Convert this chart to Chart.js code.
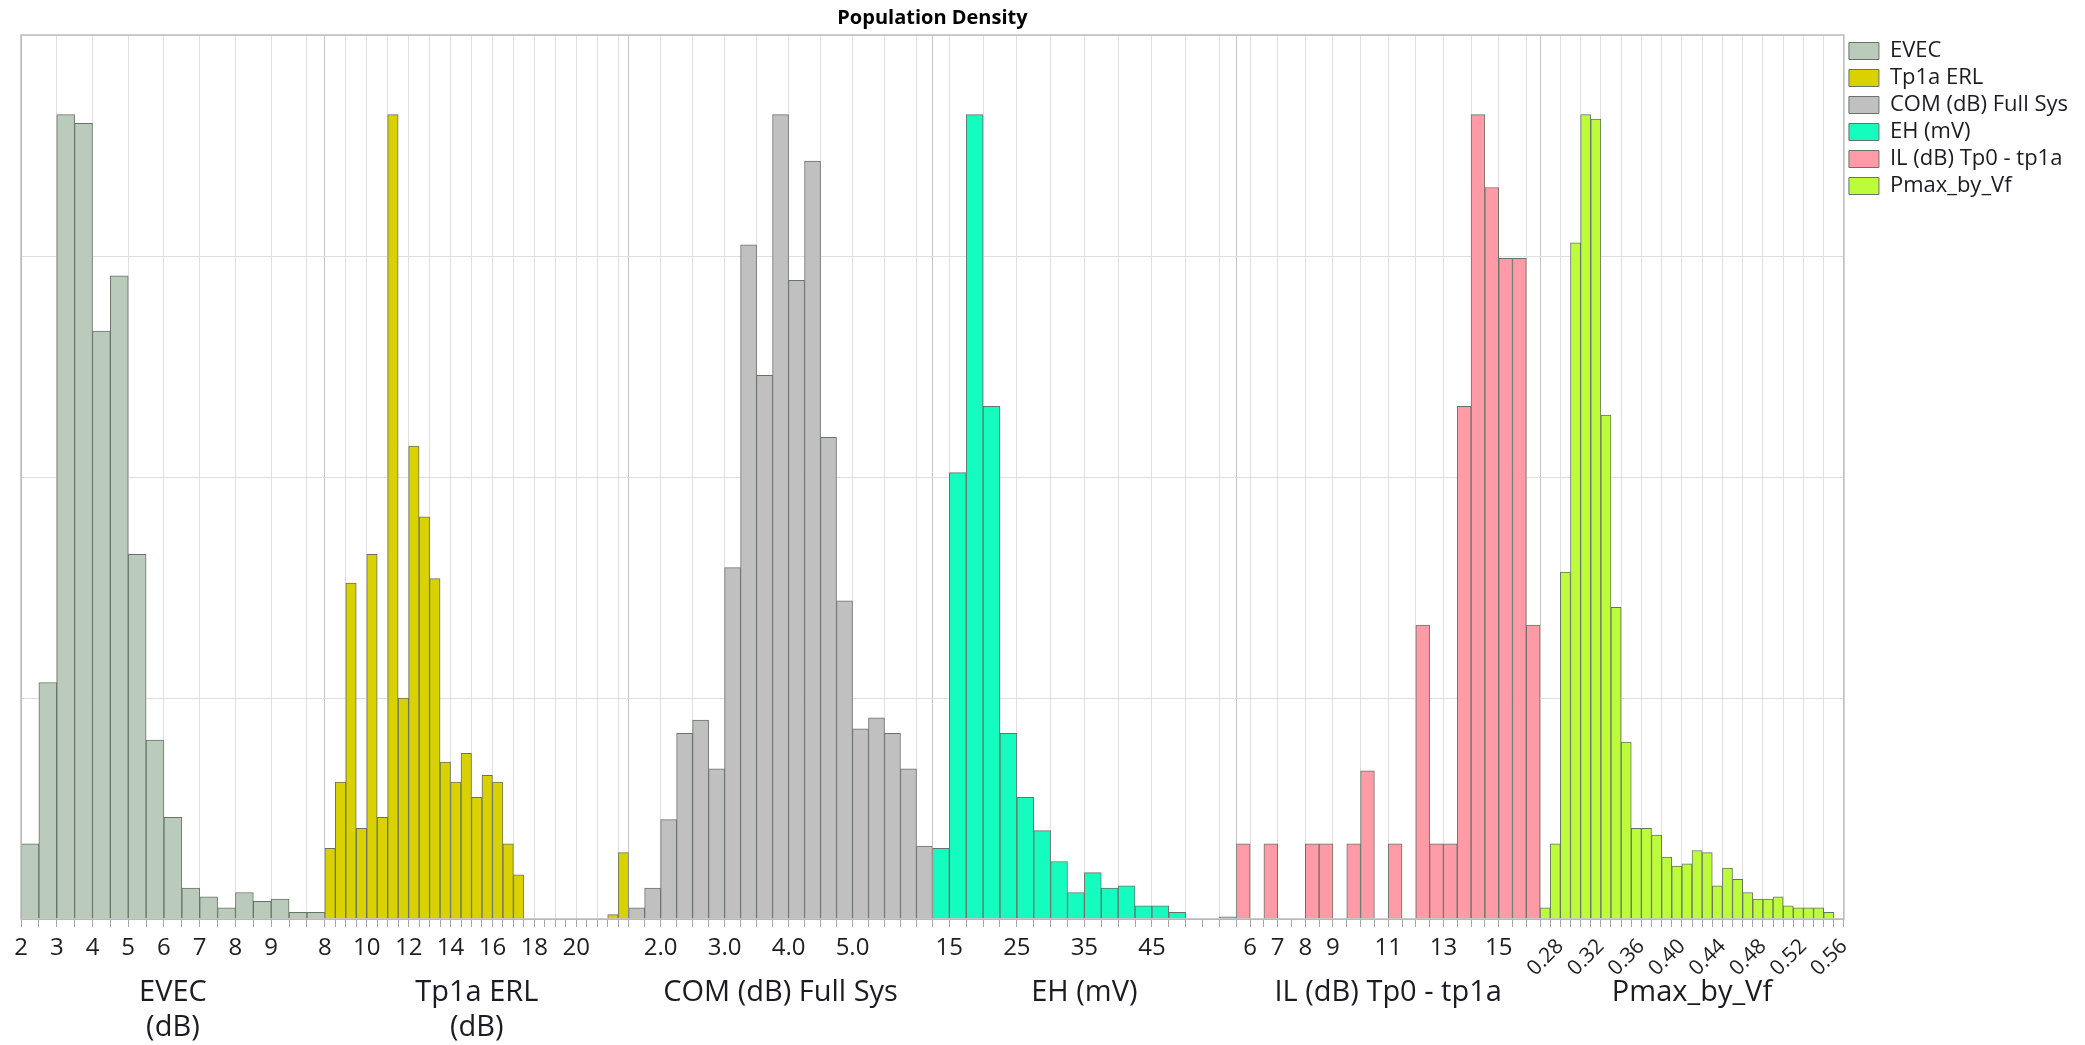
<!DOCTYPE html>
<html>
<head>
<meta charset="utf-8">
<title>Population Density</title>
<script src="https://cdn.jsdelivr.net/npm/chart.js@4.4.1/dist/chart.umd.min.js"></script>
<style>
  html, body { margin: 0; padding: 0; background: #fff; }
</style>
</head>
<body>
<canvas id="popDensity" width="2085" height="1045"></canvas>
<script>
// six histograms drawn side by side, one x axis each
var names = ['EVEC', 'Tp1a ERL', 'COM (dB) Full Sys', 'EH (mV)', 'IL (dB) Tp0 - tp1a', 'Pmax_by_Vf'];
var axisTitles = [['EVEC', '(dB)'], ['Tp1a ERL', '(dB)'], ['COM (dB) Full Sys', ''],
                  ['EH (mV)', ''], ['IL (dB) Tp0 - tp1a', ''], ['Pmax_by_Vf', '']];

// first bin edge and bin width of every panel
var binStart = [2, 8, 1.5, 12.5, 5.5, 0.26];
var binWidth = [0.5, 0.5, 0.25, 2.5, 0.5, 0.01];
var gridStep = [1, 1, 0.5, 5, 1, 0.02];

// bar heights (relative density, one grid line = 1)
var evecDensity = [0.34, 1.07, 3.64, 3.60, 2.66, 2.91, 1.65, 0.81, 0.46, 0.14, 0.10, 0.05, 0.12, 0.08, 0.09, 0.03, 0.03];
var erlDensity = [0.32, 0.62, 1.52, 0.41, 1.65, 0.46, 3.64, 1.00, 2.14, 1.82, 1.54, 0.71, 0.62, 0.75, 0.55,
                  0.65, 0.62, 0.34, 0.20, 0, 0, 0, 0, 0, 0, 0, 0, 0.02, 0.30];
var comDensity = [0.05, 0.14, 0.45, 0.84, 0.90, 0.68, 1.59, 3.05, 2.46, 3.64, 2.89, 3.43, 2.18, 1.44, 0.86,
                  0.91, 0.84, 0.68, 0.33];
var ehDensity = [0.32, 2.02, 3.64, 2.32, 0.84, 0.55, 0.40, 0.26, 0.12, 0.21, 0.14, 0.15, 0.06, 0.06, 0.03, 0, 0, 0.01];
var ilDensity = [0.34, 0, 0.34, 0, 0, 0.34, 0.34, 0, 0.34, 0.67, 0, 0.34, 0, 1.33, 0.34, 0.34, 2.32, 3.64,
                 3.31, 2.99, 2.99, 1.33];
var pmaxDensity = [0.05, 0.34, 1.57, 3.06, 3.64, 3.62, 2.28, 1.41, 0.80, 0.41, 0.41, 0.38, 0.28, 0.24, 0.25,
                   0.31, 0.30, 0.15, 0.23, 0.18, 0.12, 0.09, 0.09, 0.10, 0.06, 0.05, 0.05, 0.05, 0.03, 0];
var densities = [evecDensity, erlDensity, comDensity, ehDensity, ilDensity, pmaxDensity];

// labelled ticks
var evecTicks = ['2', '3', '4', '5', '6', '7', '8', '9'];
var erlTicks = ['8', '10', '12', '14', '16', '18', '20'];
var comTicks = ['2.0', '3.0', '4.0', '5.0'];
var ehTicks = ['15', '25', '35', '45'];
var ilTicks = ['6', '7', '8', '9', '11', '13', '15'];
var pmaxTicks = ['0.28', '0.32', '0.36', '0.40', '0.44', '0.48', '0.52', '0.56'];
var tickLabels = [evecTicks, erlTicks, comTicks, ehTicks, ilTicks, pmaxTicks];

var fills = ['#bacbbc', '#d9d100', '#c0c0c0', '#14fcbe', '#ff9aa7', '#bcfc3a'];

var FONT = "'Open Sans', 'Noto Sans', sans-serif";
var AXIS_H = 126;

function near(a, b) { return Math.abs(a - b) < 1e-6; }

var datasets = [];
var scales = {};

for (var n = 0; n < names.length; n++) {
  (function (i) {
    var vals = densities[i];
    var lo = binStart[i], w = binWidth[i];
    var hi = lo + vals.length * w;
    var id = 'x' + i;

    datasets.push({
      label: names[i],
      xAxisID: id,
      data: vals.map(function (v, k) { return {x: lo + (k + 0.5) * w, y: v}; }),
      backgroundColor: fills[i],
      borderColor: '#687368',
      borderWidth: 1,
      grouped: false,
      barPercentage: 1,
      categoryPercentage: 1
    });

    scales[id] = {
      type: 'linear',
      position: 'bottom',
      stack: 'panels',
      stackWeight: 1,
      min: lo,
      max: hi,
      offset: false,
      afterBuildTicks: function (axis) {
        var t = [];
        for (var k = 0; k <= vals.length; k++) t.push({value: +(lo + k * w).toFixed(6)});
        axis.ticks = t;
      },
      afterFit: function (axis) { axis.height = AXIS_H; },
      grid: {
        offset: false,
        color: function (ctx) {
          var v = ctx.tick.value;
          if (near(v, lo)) return '#c4c4c4';
          var r = v / gridStep[i];
          return near(r, Math.round(r)) ? '#dedede' : 'rgba(0,0,0,0)';
        },
        tickColor: '#a4a4a4',
        tickLength: 8
      },
      border: {color: '#a8a8a8'},
      ticks: {
        autoSkip: false,
        minRotation: i === 5 ? 45 : 0,
        maxRotation: i === 5 ? 45 : 0,
        padding: 7,
        color: '#1e1e1e',
        font: {family: FONT, size: i === 5 ? 21 : 24},
        callback: function (value) {
          var l = tickLabels[i];
          for (var j = 0; j < l.length; j++) {
            if (near(parseFloat(l[j]), value)) return l[j];
          }
          return '';
        }
      },
      title: {
        display: true,
        text: axisTitles[i],
        color: '#1b1b24',
        font: {family: FONT, size: 29, lineHeight: 1.2},
        padding: {top: 0, bottom: 0}
      }
    };
  })(n);
}

scales.y = {
  type: 'linear',
  position: 'left',
  min: 0,
  max: 4,
  ticks: {display: false, stepSize: 1},
  grid: {color: '#dedede', drawTicks: false},
  border: {color: '#bdbdbd'}
};

// grey frame round the plot area
var frame = {
  id: 'frame',
  afterDatasetsDraw: function (chart) {
    var a = chart.chartArea, c = chart.ctx;
    c.save();
    c.strokeStyle = '#bdbdbd';
    c.lineWidth = 1.5;
    c.strokeRect(a.left, a.top, a.right - a.left, a.bottom - a.top);
    c.restore();
  }
};

new Chart(document.getElementById('popDensity').getContext('2d'), {
  type: 'bar',
  data: {datasets: datasets},
  options: {
    responsive: false,
    animation: false,
    layout: {padding: {left: 21, right: 7, top: 0, bottom: 0}},
    scales: scales,
    plugins: {
      title: {
        display: true,
        text: 'Population Density',
        fullSize: false,
        color: '#000',
        font: {family: FONT, size: 20, weight: 'bold', lineHeight: 1.2},
        padding: {top: 6, bottom: 5}
      },
      legend: {
        position: 'right',
        align: 'start',
        fullSize: false,
        labels: {
          boxWidth: 30,
          boxHeight: 17,
          padding: 5,
          color: '#1b1b24',
          font: {family: FONT, size: 22}
        }
      },
      tooltip: {enabled: false}
    }
  },
  plugins: [frame]
});
</script>
</body>
</html>
